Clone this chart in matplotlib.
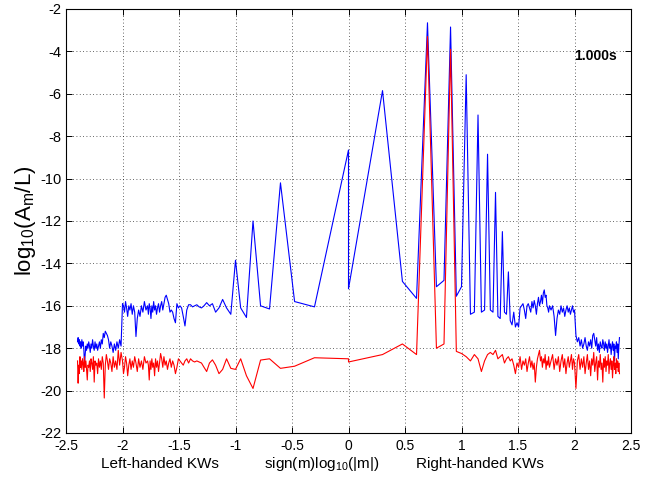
import numpy as np
import matplotlib
matplotlib.use("Agg")
import matplotlib.pyplot as plt

plt.rcParams['font.family'] = ['Liberation Sans', 'DejaVu Sans']
plt.rcParams['mathtext.fontset'] = 'custom'
plt.rcParams['mathtext.rm'] = 'Liberation Sans'
plt.rcParams['mathtext.it'] = 'Liberation Sans:italic'
plt.rcParams['mathtext.bf'] = 'Liberation Sans:bold'

# integer wave numbers m (sampled), positive side; negative side mirrors it
m_abs = list(range(1, 61)) + list(range(62, 101, 2)) + list(range(103, 251, 3))

# log10(A_m/L) for m = +1, +2, ... (blue and red)
blue_right = [
    -15.2, -5.85, -14.85, -15.65, -2.65, -15.1, -14.8, -2.85, -15.55, -15.1,
    -5.1, -16.4, -16.3, -7.0, -16.3, -16.2, -8.85, -16.2, -16.3, -10.65,
    -16.5, -16.6, -12.5, -16.3, -16.4, -14.4, -16.7, -16.9, -16.3, -17.0,
    -16.8, -17.0, -16.1, -16.0, -15.9, -16.2, -16.6, -16.0, -15.9, -16.1,
    -16.3, -15.8, -16.1, -15.75, -16.0, -16.4, -15.9, -15.6, -16.0, -15.8,
    -15.5, -15.9, -15.4, -15.25, -15.6, -15.5, -16.0, -16.1, -16.3, -16.0,
    -16.2, -16.0, -16.5, -17.4, -16.6, -16.2, -16.4, -16.0, -16.3, -16.1,
    -16.5, -16.2, -16.0, -16.3, -16.1, -16.4, -16.2, -16.0, -16.3, -16.2,
    -17.4, -17.7, -17.5, -17.9, -17.6, -18.0, -17.8, -17.5, -17.9, -18.1,
    -17.7, -17.9, -17.6, -18.0, -17.4, -17.3, -17.6, -17.9, -17.5, -18.1,
    -17.8, -18.2, -17.7, -17.9, -18.0, -17.6, -17.8, -18.1, -17.7, -18.0,
    -17.8, -18.2, -17.9, -17.6, -18.0, -17.8, -18.3, -17.9, -17.7, -18.1,
    -17.8, -18.6, -17.9, -18.0, -17.7, -18.2, -17.8, -18.5, -17.9, -17.5,
]
red_right = [
    -18.65, -18.3, -17.8, -18.3, -3.3, -18.0, -17.8, -3.9, -18.15, -18.25,
    -18.4, -18.6, -18.3, -18.5, -19.1, -18.6, -18.3, -18.2, -18.3, -18.1,
    -18.5, -18.4, -18.3, -18.7, -18.5, -18.4, -18.6, -18.5, -18.8, -19.2,
    -18.7, -18.9, -18.4, -19.0, -18.6, -18.8, -18.5, -19.1, -18.7, -18.4,
    -18.9, -18.6, -19.0, -18.7, -19.6, -18.9, -18.5, -18.3, -18.1, -18.6,
    -18.4, -18.9, -18.5, -18.7, -18.3, -19.0, -18.6, -18.8, -18.4, -18.9,
    -18.6, -18.3, -19.0, -18.5, -18.8, -18.4, -19.1, -18.6, -18.3, -18.9,
    -18.5, -19.2, -18.7, -18.4, -18.9, -18.6, -18.3, -19.0, -18.5, -18.7,
    -19.9, -18.6, -18.3, -19.0, -18.5, -18.9, -18.4, -19.2, -18.7, -18.3,
    -19.0, -18.6, -19.3, -18.5, -18.8, -18.2, -19.1, -18.7, -18.4, -19.5,
    -18.6, -18.9, -18.3, -19.0, -18.7, -19.6, -18.5, -18.9, -18.4, -19.1,
    -18.6, -18.8, -18.3, -19.2, -18.7, -18.5, -19.0, -18.6, -19.4, -18.8,
    -18.4, -19.0, -18.7, -19.2, -18.5, -18.9, -18.6, -19.1, -18.7, -19.2,
]
# log10(A_m/L) for m = -1, -2, ... (blue and red)
blue_left = [
    -8.65, -16.05, -15.8, -10.2, -16.15, -16.0, -12.0, -16.55, -16.1, -13.85,
    -16.4, -16.1, -15.7, -16.1, -16.3, -15.9, -16.0, -15.85, -16.0, -16.1,
    -16.05, -15.95, -16.0, -16.05, -15.95, -15.95, -16.2, -16.95, -16.5, -16.1,
    -16.0, -16.1, -15.9, -16.8, -16.6, -16.3, -16.2, -16.3, -15.9, -15.7,
    -15.5, -15.6, -15.9, -16.2, -15.8, -16.0, -16.3, -15.9, -16.1, -16.4,
    -16.0, -16.2, -15.8, -16.3, -16.0, -16.6, -16.1, -15.9, -16.4, -16.0,
    -16.2, -15.8, -16.3, -16.0, -16.5, -16.2, -16.6, -17.45, -16.3, -16.0,
    -16.4, -15.9, -16.2, -16.0, -16.5, -16.1, -15.8, -16.3, -16.0, -15.9,
    -17.9, -17.6, -18.0, -17.7, -18.1, -17.8, -18.2, -17.9, -17.7, -18.0,
    -17.6, -17.4, -17.3, -17.2, -17.5, -17.3, -17.8, -17.6, -18.0, -17.7,
    -17.9, -18.1, -17.8, -18.0, -17.7, -18.1, -17.9, -17.6, -18.0, -17.8,
    -18.2, -17.9, -17.7, -18.0, -17.8, -18.1, -17.9, -18.3, -18.8, -18.0,
    -17.7, -17.9, -17.6, -18.0, -17.7, -17.9, -17.6, -17.8, -17.5, -17.7,
]
red_left = [
    -18.5, -18.45, -18.85, -18.95, -18.5, -18.56, -19.9, -19.3, -18.5, -19.0,
    -18.95, -18.5, -19.0, -19.2, -18.8, -18.55, -18.7, -19.1, -18.9, -18.7,
    -18.65, -18.6, -18.65, -18.6, -18.5, -18.7, -18.5, -18.6, -18.8, -18.7,
    -18.6, -18.5, -18.9, -19.2, -18.8, -18.6, -18.9, -18.5, -18.7, -19.0,
    -18.6, -18.8, -18.4, -18.9, -18.5, -18.25, -18.7, -19.1, -18.6, -18.9,
    -18.5, -19.3, -18.7, -18.9, -18.5, -19.0, -18.6, -19.5, -18.8, -18.6,
    -18.7, -18.4, -19.0, -18.6, -18.9, -18.5, -19.1, -18.7, -18.4, -18.9,
    -18.6, -19.0, -18.5, -18.8, -19.3, -18.7, -18.4, -18.9, -19.2, -18.6,
    -18.2, -18.8, -18.1, -19.0, -18.6, -18.9, -18.4, -19.1, -18.7, -18.5,
    -19.0, -18.6, -18.3, -18.8, -20.35, -18.7, -18.4, -19.0, -18.6, -18.9,
    -18.5, -19.2, -18.7, -18.8, -18.6, -19.6, -18.4, -19.0, -18.7, -18.5,
    -19.1, -18.6, -18.9, -18.8, -19.5, -19.0, -18.6, -18.9, -18.4, -19.1,
    -18.7, -18.5, -19.0, -18.6, -18.9, -18.4, -19.2, -18.8, -19.65, -18.6,
]

x_ticks = [-2.5, -2, -1.5, -1, -0.5, 0, 0.5, 1, 1.5, 2, 2.5]
x_tick_labels = ['-2.5', '-2', '-1.5', '-1', '-0.5', '0', '0.5', '1', '1.5', '2', '2.5']
y_ticks = list(range(-22, -1, 2))
time_label = '1.000s'

for arr in (blue_right, red_right, blue_left, red_left):
    assert len(arr) == len(m_abs), len(arr)

m_all = np.array([-m for m in m_abs[::-1]] + m_abs, dtype=float)
x = np.sign(m_all) * np.log10(np.abs(m_all))
blue = np.array(blue_left[::-1] + blue_right)
red = np.array(red_left[::-1] + red_right)

fig = plt.figure(figsize=(6.47, 4.80), dpi=100)
ax = fig.add_axes([66 / 647, 47 / 480, 565 / 647, 424 / 480])

ax.plot(x, blue, color='#0000ff', lw=0.8, zorder=3)
ax.plot(x, red, color='#ff0000', lw=0.8, zorder=4)

ax.set_xlim(-2.5, 2.5)
ax.set_ylim(-22, -2)
ax.set_xticks(x_ticks)
ax.set_xticklabels(x_tick_labels)
ax.set_yticks(y_ticks)
ax.set_yticklabels([str(v) for v in y_ticks])
ax.tick_params(direction='in', length=4, width=0.7, top=True, right=True,
               colors='black')
ax.tick_params(axis='x', pad=4.5, labelsize=10)
ax.tick_params(axis='y', pad=3, labelsize=10.5)
ax.grid(True, color='black', linestyle=(0, (1, 3)), linewidth=0.6, alpha=0.8)
for s in ax.spines.values():
    s.set_linewidth(0.8)
    s.set_color('black')

ax.set_ylabel(r'log$_{\mathrm{10}}$(A$_{\mathrm{m}}$/L)', fontsize=16, labelpad=2)

label_y = 1 - 464 / 480
fig.text(160 / 647, label_y, 'Left-handed KWs', ha='center', va='center', fontsize=11)
fig.text(322 / 647, label_y, r'sign(m)log$_{\mathrm{10}}$(|m|)', ha='center', va='center', fontsize=11)
fig.text(480 / 647, label_y, 'Right-handed KWs', ha='center', va='center', fontsize=11)

ax.text(2.0, -4.2, time_label, ha='left', va='center', fontsize=10, fontweight='bold')

fig.savefig('out.png', dpi=100)
